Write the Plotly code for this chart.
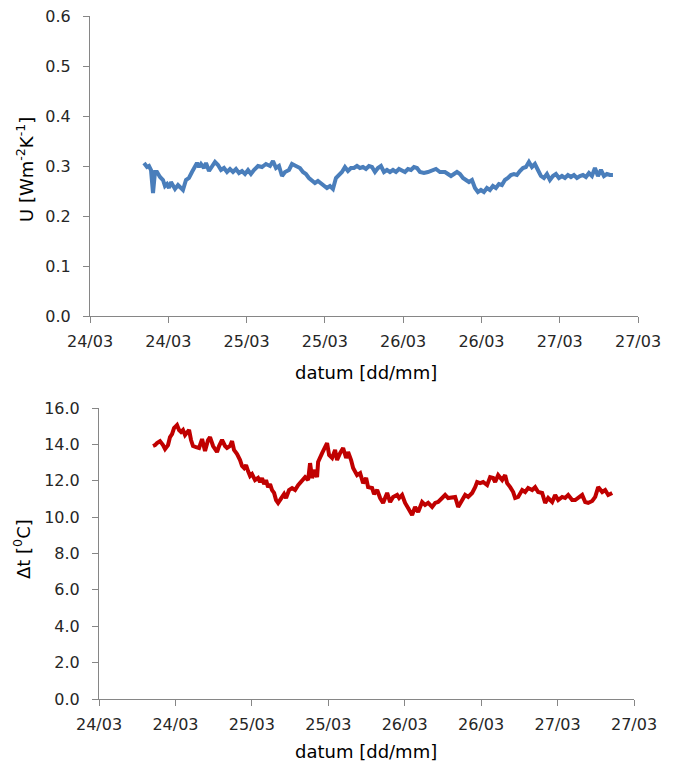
import pandas as pd
import plotly.graph_objects as go

# ---- data ----
base = pd.Timestamp("2014-03-24 00:00")

u_hours = [8.28, 8.74, 9.04, 9.35, 9.66, 9.96, 10.27, 10.73, 11.19, 11.49,
           11.80, 12.11, 12.41, 12.72, 13.03, 13.49, 13.95, 14.25, 14.71, 15.17,
           15.63, 16.09, 16.40, 16.71, 17.01, 17.47, 17.78, 18.24, 18.70, 19.16,
           19.62, 20.08, 20.54, 21.00, 21.46, 21.92, 22.38, 22.84, 23.30, 23.76,
           24.22, 24.67, 25.13, 25.75, 26.36, 26.97, 27.59, 28.05, 28.51, 28.97,
           29.43, 29.89, 30.50, 30.96, 31.57, 32.18, 32.64, 33.10, 33.56, 34.02,
           34.48, 34.94, 35.40, 35.86, 36.32, 36.78, 37.24, 37.70, 38.16, 38.62,
           39.08, 39.54, 40.00, 40.46, 40.92, 41.38, 41.84, 42.30, 42.76, 43.22,
           43.68, 44.14, 44.60, 45.06, 45.52, 45.98, 46.44, 46.90, 47.36, 47.82,
           48.28, 48.74, 49.20, 49.66, 50.12, 50.58, 51.19, 51.80, 52.42, 53.03,
           53.64, 54.41, 54.87, 55.33, 55.79, 56.25, 56.71, 57.17, 57.63, 58.09,
           58.55, 59.01, 59.46, 59.92, 60.38, 60.84, 61.30, 61.76, 62.22, 62.68,
           63.14, 63.60, 64.06, 64.52, 64.98, 65.44, 65.90, 66.36, 66.82, 67.28,
           67.74, 68.20, 68.66, 69.12, 69.58, 70.04, 70.50, 70.96, 71.42, 71.88,
           72.34, 72.80, 73.26, 73.72, 74.18, 74.64, 75.10, 75.56, 76.02, 76.48,
           76.94, 77.40, 77.86, 78.32, 78.78, 79.24, 79.70, 80.16]

u_values = [0.306, 0.298, 0.300, 0.292, 0.246, 0.288, 0.288, 0.278, 0.272, 0.260,
            0.264, 0.256, 0.268, 0.260, 0.254, 0.262, 0.256, 0.252, 0.272, 0.276,
            0.288, 0.300, 0.306, 0.298, 0.304, 0.296, 0.306, 0.290, 0.300, 0.308,
            0.302, 0.292, 0.296, 0.288, 0.294, 0.288, 0.294, 0.286, 0.290, 0.284,
            0.292, 0.284, 0.292, 0.300, 0.298, 0.304, 0.300, 0.310, 0.296, 0.300,
            0.280, 0.288, 0.292, 0.304, 0.300, 0.296, 0.288, 0.284, 0.276, 0.272,
            0.266, 0.270, 0.266, 0.260, 0.256, 0.260, 0.254, 0.276, 0.282, 0.288,
            0.298, 0.290, 0.296, 0.296, 0.300, 0.296, 0.298, 0.294, 0.300, 0.298,
            0.288, 0.296, 0.300, 0.288, 0.292, 0.288, 0.292, 0.288, 0.294, 0.292,
            0.288, 0.294, 0.292, 0.298, 0.296, 0.288, 0.286, 0.288, 0.292, 0.294,
            0.288, 0.288, 0.284, 0.280, 0.284, 0.288, 0.284, 0.276, 0.272, 0.268,
            0.272, 0.256, 0.248, 0.252, 0.248, 0.256, 0.252, 0.260, 0.256, 0.264,
            0.262, 0.272, 0.276, 0.282, 0.284, 0.282, 0.290, 0.296, 0.298, 0.308,
            0.298, 0.304, 0.292, 0.280, 0.276, 0.284, 0.272, 0.280, 0.284, 0.276,
            0.280, 0.276, 0.282, 0.278, 0.282, 0.276, 0.280, 0.282, 0.278, 0.286,
            0.280, 0.296, 0.280, 0.292, 0.280, 0.284, 0.282, 0.282]

dt_hours = [8.48, 8.80, 9.11, 9.58, 10.05, 10.37, 10.84, 11.15, 11.47, 11.78,
            12.25, 12.57, 12.88, 13.19, 13.51, 13.82, 14.14, 14.45, 14.76, 15.24,
            15.71, 16.18, 16.65, 17.12, 17.43, 17.91, 18.53, 18.85, 19.32, 19.79,
            20.10, 20.58, 20.89, 21.20, 21.68, 22.15, 22.46, 22.78, 23.09, 23.40,
            23.72, 24.03, 24.50, 24.97, 25.29, 25.60, 25.92, 26.23, 26.54, 26.86,
            27.17, 27.49, 27.80, 28.12, 28.59, 29.06, 29.37, 29.84, 30.31, 30.79,
            31.26, 31.57, 32.36, 32.83, 33.14, 33.46, 33.93, 34.24, 34.40, 35.03,
            35.50, 35.81, 36.13, 36.60, 37.07, 37.38, 37.85, 38.33, 38.80, 39.11,
            39.58, 39.90, 40.52, 41.00, 41.47, 41.94, 42.25, 42.88, 43.19, 43.67,
            44.14, 44.61, 44.92, 45.24, 45.71, 46.18, 46.81, 47.12, 47.59, 48.06,
            48.53, 49.16, 49.63, 50.11, 50.73, 51.20, 51.68, 52.30, 52.78, 53.25,
            53.88, 54.35, 54.82, 55.45, 55.92, 56.39, 57.02, 57.49, 57.96, 58.59,
            59.06, 59.37, 59.84, 60.31, 60.94, 61.41, 61.89, 62.20, 62.67, 63.30,
            63.77, 64.08, 64.56, 65.03, 65.34, 65.81, 66.44, 66.91, 67.38, 68.01,
            68.48, 68.95, 69.58, 70.05, 70.52, 71.15, 71.62, 72.10, 72.72, 73.19,
            73.67, 74.29, 74.77, 75.24, 75.86, 76.34, 76.81, 77.44, 77.91, 78.38,
            79.01, 79.48, 79.95, 80.58]

dt_values = [13.91, 13.96, 14.07, 14.18, 13.96, 13.74, 13.96, 14.40, 14.57, 14.90,
             15.06, 14.79, 14.68, 14.79, 14.51, 14.62, 14.79, 14.24, 13.91, 13.85,
             13.80, 14.29, 13.63, 14.24, 14.40, 13.91, 13.58, 13.91, 14.24, 13.91,
             13.80, 13.91, 14.18, 13.69, 13.47, 13.14, 12.81, 12.70, 12.86, 12.53,
             12.26, 12.37, 12.04, 12.15, 11.93, 12.15, 11.82, 12.04, 11.65, 11.82,
             11.49, 11.33, 10.94, 10.78, 11.05, 11.27, 11.05, 11.49, 11.60, 11.49,
             11.76, 11.87, 12.20, 12.04, 12.97, 12.15, 12.59, 12.20, 13.03, 13.52,
             13.85, 14.07, 13.41, 13.25, 13.69, 13.14, 13.52, 13.80, 13.25, 13.58,
             13.14, 12.70, 12.31, 12.42, 11.87, 12.15, 11.65, 11.60, 11.27, 11.49,
             11.05, 10.78, 11.05, 11.33, 10.83, 11.11, 11.22, 11.05, 11.22, 10.78,
             10.50, 10.12, 10.56, 10.28, 10.83, 10.67, 10.78, 10.56, 10.78, 10.83,
             11.05, 11.22, 11.05, 11.11, 11.11, 10.56, 10.94, 11.22, 11.11, 11.33,
             11.65, 11.93, 11.87, 11.93, 11.76, 12.20, 12.15, 11.93, 12.31, 12.04,
             12.31, 11.87, 11.65, 11.38, 11.05, 11.11, 11.49, 11.38, 11.60, 11.49,
             11.65, 11.38, 11.33, 10.78, 11.05, 10.83, 11.22, 10.94, 11.11, 11.05,
             11.22, 10.94, 10.94, 11.05, 11.22, 10.83, 10.78, 10.89, 11.11, 11.65,
             11.38, 11.49, 11.22, 11.33]

u_ticks = [0.0, 0.1, 0.2, 0.3, 0.4, 0.5, 0.6]
dt_ticks = [0.0, 2.0, 4.0, 6.0, 8.0, 10.0, 12.0, 14.0, 16.0]
x_range_hours = [0, 84]
x_tick_hours = 12

u_times = base + pd.to_timedelta(u_hours, unit="h")
dt_times = base + pd.to_timedelta(dt_hours, unit="h")

# ---- figure ----
# The page body has a default 8px margin, so the figure is drawn 8px in from
# the window's top-left corner; size and positions compensate for that.
OFF = 8
W, H = 678 - OFF, 764 - OFF
FONT = "DejaVu Sans"
AXIS_COLOR = "#868686"
TICK_FONT = dict(family=FONT, size=16, color="#262626")

fig = go.Figure()
fig.add_trace(go.Scatter(x=u_times, y=u_values, mode="lines",
                         line=dict(color="#4A7EBB", width=4),
                         xaxis="x", yaxis="y", showlegend=False))
fig.add_trace(go.Scatter(x=dt_times, y=dt_values, mode="lines",
                         line=dict(color="#C00000", width=4),
                         xaxis="x2", yaxis="y2", showlegend=False))

xr = [base + pd.Timedelta(hours=x_range_hours[0]), base + pd.Timedelta(hours=x_range_hours[1])]
xcommon = dict(type="date", range=xr, tick0=base, dtick=x_tick_hours * 3600 * 1000,
               tickformat="%d/%m", showline=True, linecolor=AXIS_COLOR, linewidth=1,
               ticks="outside", ticklen=6, tickcolor=AXIS_COLOR, showgrid=False,
               zeroline=False, tickfont=TICK_FONT, ticklabelstandoff=5, automargin=False,
               ticklabeloverflow="allow")
ycommon = dict(showline=True, linecolor=AXIS_COLOR, linewidth=1, ticks="outside",
               ticklen=6, tickcolor=AXIS_COLOR, showgrid=False, zeroline=False,
               tickfont=TICK_FONT, ticklabelstandoff=9, automargin=False,
               tickmode="array", tickformat=".1f", ticklabeloverflow="allow")


def px_x(p):
    return (p - OFF) / W


def px_y(p):
    return (H - (p - OFF)) / H


fig.update_layout(
    width=W, height=H,
    margin=dict(l=0, r=0, t=0, b=0),
    paper_bgcolor="white", plot_bgcolor="white",
    font=dict(family=FONT, color="#000000"),
    xaxis=dict(domain=[px_x(90), px_x(638)], anchor="y", **xcommon),
    yaxis=dict(domain=[px_y(316), px_y(16)], anchor="x",
               range=[u_ticks[0], u_ticks[-1]], tickvals=u_ticks, **ycommon),
    xaxis2=dict(domain=[px_x(99), px_x(634)], anchor="y2", **xcommon),
    yaxis2=dict(domain=[px_y(699), px_y(408)], anchor="x2",
                range=[dt_ticks[0], dt_ticks[-1]], tickvals=dt_ticks, **ycommon),
)

title_font = dict(family=FONT, size=18, color="#000000")
annotations = [
    dict(text="datum [dd/mm]", x=px_x(366), y=px_y(372)),
    dict(text="datum [dd/mm]", x=px_x(366), y=px_y(751)),
    dict(text="U [Wm<sup>-2</sup>K<sup>-1</sup>]", x=px_x(25), y=px_y(170), textangle=-90),
    dict(text="Δt [<sup>0</sup>C]", x=px_x(22), y=px_y(549), textangle=-90),
]
for a in annotations:
    fig.add_annotation(xref="paper", yref="paper", showarrow=False,
                       xanchor="center", yanchor="middle", font=title_font, **a)

fig.write_html("out.html")
